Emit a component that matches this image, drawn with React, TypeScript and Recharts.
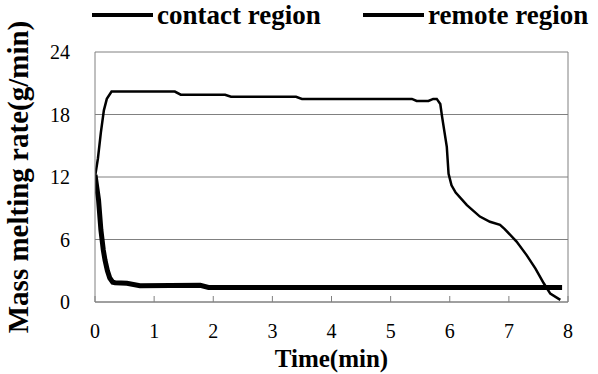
import { CartesianGrid, Legend, Line, LineChart, ReferenceLine, XAxis, YAxis } from "recharts"

const contactTime = [0, 0.05, 0.1, 0.15, 0.2, 0.28, 1.35, 1.45, 2.2, 2.3, 3.4, 3.5, 5.36, 5.44, 5.64, 5.72, 5.78, 5.84, 5.87, 5.95, 5.98, 6.03, 6.1, 6.29, 6.51, 6.68, 6.85, 6.93, 7.13, 7.3, 7.45, 7.59, 7.7, 7.87]
const contactRate = [12.0, 13.8, 16.3, 18.4, 19.5, 20.2, 20.2, 19.9, 19.9, 19.7, 19.7, 19.5, 19.5, 19.3, 19.3, 19.5, 19.5, 19.0, 17.8, 14.9, 12.3, 11.2, 10.5, 9.3, 8.2, 7.7, 7.4, 7.0, 5.8, 4.5, 3.2, 1.8, 0.8, 0.2]

const remoteTime = [0, 0.03, 0.06, 0.1, 0.14, 0.17, 0.21, 0.25, 0.3, 0.34, 0.54, 0.76, 1.78, 1.92, 7.9]
const remoteRate = [12.2, 11.0, 9.8, 6.9, 5.0, 4.0, 3.0, 2.3, 1.9, 1.85, 1.8, 1.57, 1.6, 1.4, 1.4]

const xTicks = [0, 1, 2, 3, 4, 5, 6, 7, 8]
const yTicks = [0, 6, 12, 18, 24]
const seriesNames = ["contact region", "remote region"]

const contactData = contactTime.map((t, i) => ({ t, v: contactRate[i] }))
const remoteData = remoteTime.map((t, i) => ({ t, v: remoteRate[i] }))

const font = "'Liberation Serif', 'Times New Roman', serif"

function XTick({ x, y, payload }: any) {
  return (
    <g>
      <line x1={x} x2={x} y1={y - 16} y2={y - 22} stroke="#808080" />
      <text x={x} y={y} dy={20} textAnchor="middle" style={{ fontFamily: font }} fontSize={20} fill="#000">
        {payload.value}
      </text>
    </g>
  )
}

function LegendBox() {
  return (
    <div style={{ position: "relative", height: 52, fontFamily: font, fontWeight: "bold", fontSize: 27, lineHeight: "30px" }}>
      {seriesNames.map((name, i) => (
        <div key={name} style={{ position: "absolute", left: i === 0 ? 92 : 363, top: 0, display: "flex", alignItems: "center", whiteSpace: "nowrap" }}>
          <div style={{ width: 61, height: 4, background: "#000", marginRight: 4 }} />
          <span>{name}</span>
        </div>
      ))}
    </div>
  )
}

export default function App() {
  return (
    <div style={{ position: "absolute", left: 0, top: 0, width: 598, height: 374, background: "#fff", fontFamily: font, overflow: "hidden" }}>
      <LineChart width={598} height={374} margin={{ top: 0, right: 30, left: 0, bottom: 0 }} style={{ fontFamily: font }}>
        <Legend verticalAlign="top" content={() => <LegendBox />} wrapperStyle={{ top: 0, left: 0, width: 598 }} />
        <CartesianGrid horizontal vertical={false} stroke="#808080" />
        <XAxis
          type="number"
          dataKey="t"
          domain={[0, 8]}
          ticks={xTicks}
          allowDataOverflow
          height={72}
          stroke="#808080"
          tickSize={0}
          tickMargin={16}
          tick={<XTick />}
          label={{ value: "Time(min)", position: "insideBottom", offset: 7, style: { fontFamily: font, fontWeight: "bold" }, fontSize: 25, fill: "#000" }}
        />
        <YAxis
          type="number"
          dataKey="v"
          domain={[0, 24]}
          ticks={yTicks}
          width={95}
          stroke="#808080"
          tickLine={false}
          tickMargin={19}
          tick={{ fontSize: 20, fill: "#000", style: { fontFamily: font } }}
          label={{ value: "Mass melting rate(g/min)", angle: -90, position: "insideLeft", offset: 18, style: { textAnchor: "middle", fontFamily: font, fontWeight: "bold" }, fontSize: 29, fill: "#000" }}
        />
        <ReferenceLine x={8} stroke="#808080" />
        <Line data={contactData} dataKey="v" name={seriesNames[0]} type="linear" stroke="#000" strokeWidth={2.5} dot={false} isAnimationActive={false} />
        <Line data={remoteData} dataKey="v" name={seriesNames[1]} type="linear" stroke="#000" strokeWidth={5} dot={false} isAnimationActive={false} />
      </LineChart>
    </div>
  )
}
